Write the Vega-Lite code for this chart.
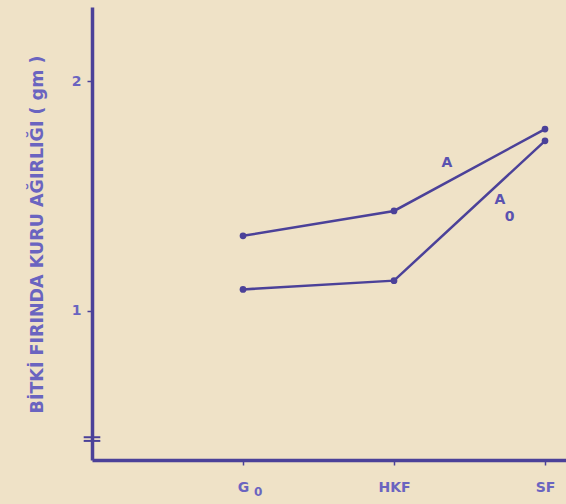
{
  "$schema": "https://vega.github.io/schema/vega-lite/v6.json",
  "autosize": "none",
  "width": 474,
  "height": 453,
  "padding": {"left": 92, "top": 7, "right": 0, "bottom": 44},
  "background": "#efe2c7",
  "config": {"view": {"stroke": null}, "font": "DejaVu Sans"},
  "datasets": {
    "pts": [
      {"t": 1, "w": 1.327, "s": "A"},
      {"t": 2, "w": 1.435, "s": "A"},
      {"t": 3, "w": 1.791, "s": "A"},
      {"t": 1, "w": 1.094, "s": "A0"},
      {"t": 2, "w": 1.132, "s": "A0"},
      {"t": 3, "w": 1.740, "s": "A0"}
    ],
    "labs": [
      {"t": 2.351, "w": 1.643, "txt": "A", "sz": 14, "c": "#5a52b0"},
      {"t": 2.702, "w": 1.483, "txt": "A", "sz": 14, "c": "#5a52b0"},
      {"t": 2.765, "w": 1.41, "txt": "0", "sz": 14, "c": "#5a52b0"},
      {"t": 1.1, "w": 0.215, "txt": "0", "sz": 12, "c": "#6a64c0"}
    ],
    "brk": [
      {"a": -0.055, "b": 0.055, "w": 0.451},
      {"a": -0.055, "b": 0.055, "w": 0.435}
    ]
  },
  "layer": [
    {
      "data": {"name": "pts"},
      "mark": {"type": "line", "color": "#4b4199", "strokeWidth": 2.5, "point": {"filled": true, "size": 45, "color": "#4b4199"}},
      "encoding": {
        "x": {"field": "t", "type": "quantitative", "scale": {"domain": [0, 3.139], "nice": false, "zero": false},
          "axis": {"values": [1, 2, 3], "labelExpr": "datum.value == 1 ? 'G' : datum.value == 2 ? 'HKF' : 'SF'", "title": null, "grid": false,
            "domainColor": "#4b4199", "domainWidth": 3.5, "tickColor": "#4b4199", "tickWidth": 1.5, "tickSize": 5,
            "labelColor": "#6a64c0", "labelFontSize": 14, "labelFontWeight": "bold", "labelPadding": 15}},
        "y": {"field": "w", "type": "quantitative", "scale": {"domain": [0.352, 2.322], "nice": false, "zero": false},
          "axis": {"values": [1, 2], "format": "d", "grid": false, "title": "BİTKİ FIRINDA KURU AĞIRLIĞI ( gm )",
            "titleX": -55, "titleY": 227, "titleAngle": 270, "titleAlign": "center", "titleBaseline": "middle",
            "titleColor": "#6a64c0", "titleFontSize": 17.5, "titleFontWeight": "bold",
            "domainColor": "#4b4199", "domainWidth": 3.5, "tickColor": "#4b4199", "tickWidth": 1.5, "tickSize": 5,
            "labelColor": "#6a64c0", "labelFontSize": 14, "labelFontWeight": "bold", "labelPadding": 6}},
        "detail": {"field": "s"}
      }
    },
    {
      "data": {"name": "labs"},
      "mark": {"type": "text", "fontWeight": "bold", "align": "center", "baseline": "middle", "clip": false},
      "encoding": {
        "x": {"field": "t", "type": "quantitative"},
        "y": {"field": "w", "type": "quantitative"},
        "text": {"field": "txt"},
        "color": {"field": "c", "type": "nominal", "scale": null},
        "size": {"field": "sz", "type": "quantitative", "scale": null}
      }
    },
    {
      "data": {"name": "brk"},
      "mark": {"type": "rule", "color": "#4b4199", "strokeWidth": 2, "clip": false},
      "encoding": {
        "x": {"field": "a", "type": "quantitative"},
        "x2": {"field": "b"},
        "y": {"field": "w", "type": "quantitative"}
      }
    }
  ]
}
